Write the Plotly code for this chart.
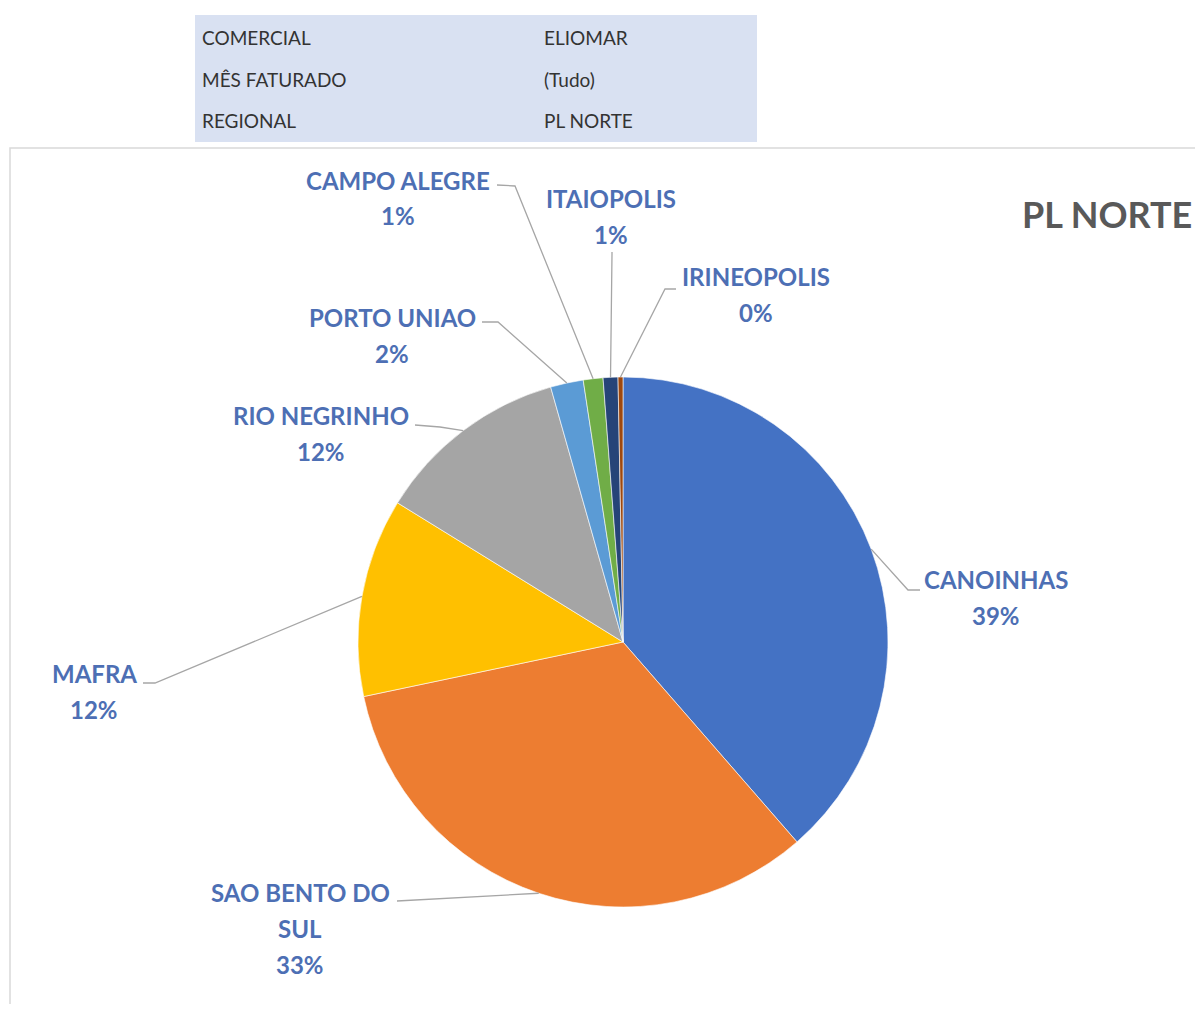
import plotly.graph_objects as go
import math

# ---------------- data ----------------
cities = ["CANOINHAS", "SAO BENTO DO SUL", "MAFRA", "RIO NEGRINHO",
          "PORTO UNIAO", "CAMPO ALEGRE", "ITAIOPOLIS", "IRINEOPOLIS"]
shares = [38.6, 33.1, 12.1, 11.8, 2.0, 1.2, 0.9, 0.3]
label_lines = [["CANOINHAS"], ["SAO BENTO DO", "SUL"], ["MAFRA"], ["RIO NEGRINHO"],
               ["PORTO UNIAO"], ["CAMPO ALEGRE"], ["ITAIOPOLIS"], ["IRINEOPOLIS"]]
colors = ["#4472C4", "#ED7D31", "#FFC000", "#A5A5A5",
          "#5B9BD5", "#70AD47", "#264478", "#9E480E"]
filter_fields = ["COMERCIAL", "MÊS FATURADO", "REGIONAL"]
filter_values = ["ELIOMAR", "(Tudo)", "PL NORTE"]
chart_title = "PL NORTE"

# ---------------- layout helpers ----------------
PAGE_W, PAGE_H = 1203, 1012
OFF = 8                      # default page margin around the plot div
W, H = PAGE_W - OFF, PAGE_H - 2 * OFF
CX, CY, R = 623, 642, 265    # pie centre / radius in page pixels


def px(x):
    return (x - OFF) / W


def py(y):
    return 1 - (y - OFF) / H


# label centre (first line) and leader line (label-side start, elbow) in page pixels
label_pos = [(996, 579), (300, 892), (94, 673), (321, 415),
             (392, 317), (398, 180), (611, 199), (756, 276)]
leader = [((920, 590), (908, 590)), ((397, 901), (397, 901)), ((143, 683), (155, 683)),
          ((415, 425), (440, 427)), ((482, 322), (498, 322)), ((497, 185), (515, 186)),
          ((612, 252), (612, 254)), ((676, 289), (665, 289))]
LINE_H = 36

fig = go.Figure()
fig.add_trace(go.Pie(
    labels=cities, values=shares, sort=False, direction="clockwise", rotation=0,
    marker=dict(colors=colors, line=dict(color="white", width=0.6)),
    textinfo="none", hoverinfo="label+percent", showlegend=False,
    domain=dict(x=[px(CX - R), px(CX + R)], y=[py(CY + R), py(CY - R)]),
))

annotations = []
shapes = []

# filter table
shapes.append(dict(type="rect", xref="paper", yref="paper",
                   x0=px(195), x1=px(757), y0=py(142), y1=py(15),
                   fillcolor="#D9E1F2", line=dict(width=0), layer="below"))
for i, (f, v) in enumerate(zip(filter_fields, filter_values)):
    yy = 37 + i * 42
    annotations.append(dict(text=f, x=px(200), y=py(yy), xref="paper", yref="paper",
                            xanchor="left", yanchor="middle", showarrow=False,
                            font=dict(family="Lato", size=19, color="#333333")))
    annotations.append(dict(text=v, x=px(542), y=py(yy), xref="paper", yref="paper",
                            xanchor="left", yanchor="middle", showarrow=False,
                            font=dict(family="Lato", size=19, color="#333333")))

# chart area border
shapes.append(dict(type="rect", xref="paper", yref="paper",
                   x0=px(10), x1=px(1240), y0=py(1060), y1=py(148),
                   line=dict(color="#D9D9D9", width=1.5), layer="below"))

# title
annotations.append(dict(text="<b>" + chart_title + "</b>", x=px(1020), y=py(214),
                        xref="paper", yref="paper", xanchor="left", yanchor="middle",
                        showarrow=False,
                        font=dict(family="Lato", size=36, color="#595959")))

# labels + leader lines
total = sum(shares)
cum = 0.0
lbl_font = dict(family="Lato", size=24, color="#4D6FB4")
for i, v in enumerate(shares):
    mid = (cum + v / 2) / total * 2 * math.pi
    cum += v
    ex = CX + R * math.sin(mid)
    ey = CY - R * math.cos(mid)
    lx, ly = label_pos[i]
    lines = label_lines[i] + [f"{round(v / total * 100)}%"]
    for k, t in enumerate(lines):
        annotations.append(dict(text="<b>" + t + "</b>", x=px(lx), y=py(ly + k * LINE_H),
                                xref="paper", yref="paper", xanchor="center",
                                yanchor="middle", showarrow=False, font=lbl_font))
    (sx, sy), (bx, by) = leader[i]
    path = f"M {px(sx)},{py(sy)} L {px(bx)},{py(by)} L {px(ex)},{py(ey)}"
    shapes.append(dict(type="path", xref="paper", yref="paper", path=path,
                       line=dict(color="#A6A6A6", width=1.3)))

fig.update_layout(
    width=W, height=H, margin=dict(l=0, r=0, t=0, b=0),
    paper_bgcolor="white", plot_bgcolor="white",
    annotations=annotations, shapes=shapes,
)

fig.write_html("out.html")
